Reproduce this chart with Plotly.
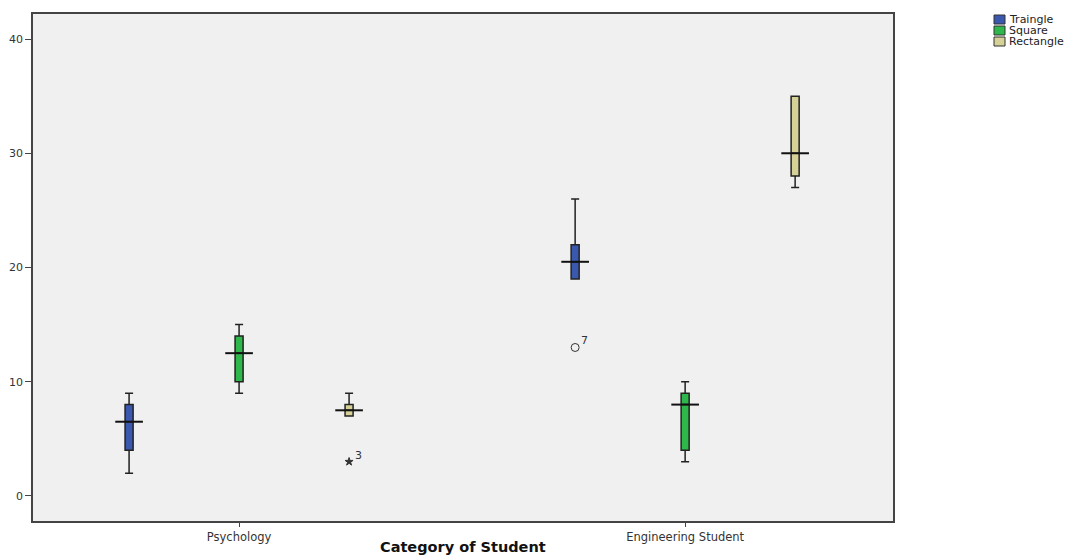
import plotly.graph_objects as go

# Box-plot summary of scores by category of student and shape
categories = ["Psychology", "Engineering Student"]
shapes = ["Traingle", "Square", "Rectangle"]
colors = ["#3a58ad", "#2eb84b", "#d6d197"]

# per shape: values for [Psychology, Engineering Student]
lower_whisker = [[2, 19], [9, 3], [7, 27]]
q1 = [[4, 19], [10, 4], [7, 28]]
median = [[6.5, 20.5], [12.5, 8], [7.5, 30]]
q3 = [[8, 22], [14, 9], [8, 35]]
upper_whisker = [[9, 26], [15, 10], [9, 35]]

# flagged cases: (shape index, category index, value, case label, symbol)
outlier_shape = [2, 0]
outlier_cat = [0, 1]
outlier_value = [3, 13]
outlier_label = ["3", "7"]
outlier_symbol = ["star", "circle-open"]

y_ticks = [0, 10, 20, 30, 40]

offset = 0.2466
box_w = 0.018
med_half = 0.031

FONT = "DejaVu Sans, Verdana, sans-serif"

fig = go.Figure()

for i, name in enumerate(shapes):
    xs = [c + (i - 1) * offset for c in range(len(categories))]
    fig.add_trace(go.Box(
        x=xs, q1=q1[i], median=median[i], q3=q3[i],
        lowerfence=lower_whisker[i], upperfence=upper_whisker[i],
        width=box_w, whiskerwidth=1,
        fillcolor=colors[i], line=dict(color="#222222", width=1.5),
        boxpoints=False, showlegend=False, hoverinfo="skip", name=name,
    ))
    # wide median bars across each box
    mx, my = [], []
    for x, m in zip(xs, median[i]):
        mx += [x - med_half, x + med_half, None]
        my += [m, m, None]
    fig.add_trace(go.Scatter(x=mx, y=my, mode="lines",
                             line=dict(color="#111111", width=2),
                             showlegend=False, hoverinfo="skip"))

for s, c, v, lab, sym in zip(outlier_shape, outlier_cat, outlier_value,
                              outlier_label, outlier_symbol):
    x = c + (s - 1) * offset
    fig.add_trace(go.Scatter(
        x=[x], y=[v], mode="markers",
        marker=dict(symbol=sym, size=6 if sym == "star" else 8,
                    color="#333333", line=dict(color="#333333", width=1)),
        showlegend=False, hoverinfo="skip"))
    fig.add_annotation(x=x, y=v, text=lab, showarrow=False,
                       xanchor="left", yanchor="bottom", xshift=4, yshift=-2,
                       font=dict(family=FONT, size=11, color="#333333"))

# legend drawn as small swatches in paper space
leg_x0 = 994
leg_top = 15
for i, name in enumerate(shapes):
    y0 = leg_top + i * 11
    fig.add_shape(type="rect", xref="paper", yref="paper",
                  x0=(leg_x0 - 33) / 860, x1=(leg_x0 + 11 - 33) / 860,
                  y0=(521 - (y0 + 9)) / 507, y1=(521 - y0) / 507,
                  fillcolor=colors[i], line=dict(color="#333333", width=1))
    fig.add_annotation(xref="paper", yref="paper",
                       x=(leg_x0 + 13 - 33) / 860, y=(521 - (y0 + 4.5)) / 507,
                       text=name, showarrow=False, xanchor="left", yanchor="middle",
                       font=dict(family=FONT, size=11, color="#222222"))

axis_font = dict(family=FONT, size=11.5, color="#333333")

# axis title sits just under the tick labels at the foot of the page
fig.add_annotation(xref="paper", yref="paper", x=0.5, y=(521 - 547) / 507,
                   text="<b>Category of Student</b>", showarrow=False,
                   xanchor="center", yanchor="middle",
                   font=dict(family=FONT, size=14.5, color="#111111"))

fig.update_layout(
    width=1067, height=557,
    margin=dict(l=33, r=174, t=14, b=36),
    paper_bgcolor="white", plot_bgcolor="#f0f0f0",
    showlegend=False,
    xaxis=dict(range=[-0.462, 1.466], tickvals=list(range(len(categories))),
               ticktext=categories, showgrid=False, zeroline=False, automargin=False,
               showline=True, linecolor="#444444", linewidth=1.5, mirror=True,
               ticks="outside", ticklen=4, tickcolor="#444444", tickfont=axis_font),
    yaxis=dict(range=[-2.19, 42.19], tickvals=y_ticks, showgrid=False, zeroline=False,
               automargin=False,
               showline=True, linecolor="#444444", linewidth=1.5, mirror=True,
               ticks="outside", ticklen=6, tickcolor="#444444",
               tickfont=dict(family=FONT, size=11, color="#333333")),
)

fig.write_html("out.html")
